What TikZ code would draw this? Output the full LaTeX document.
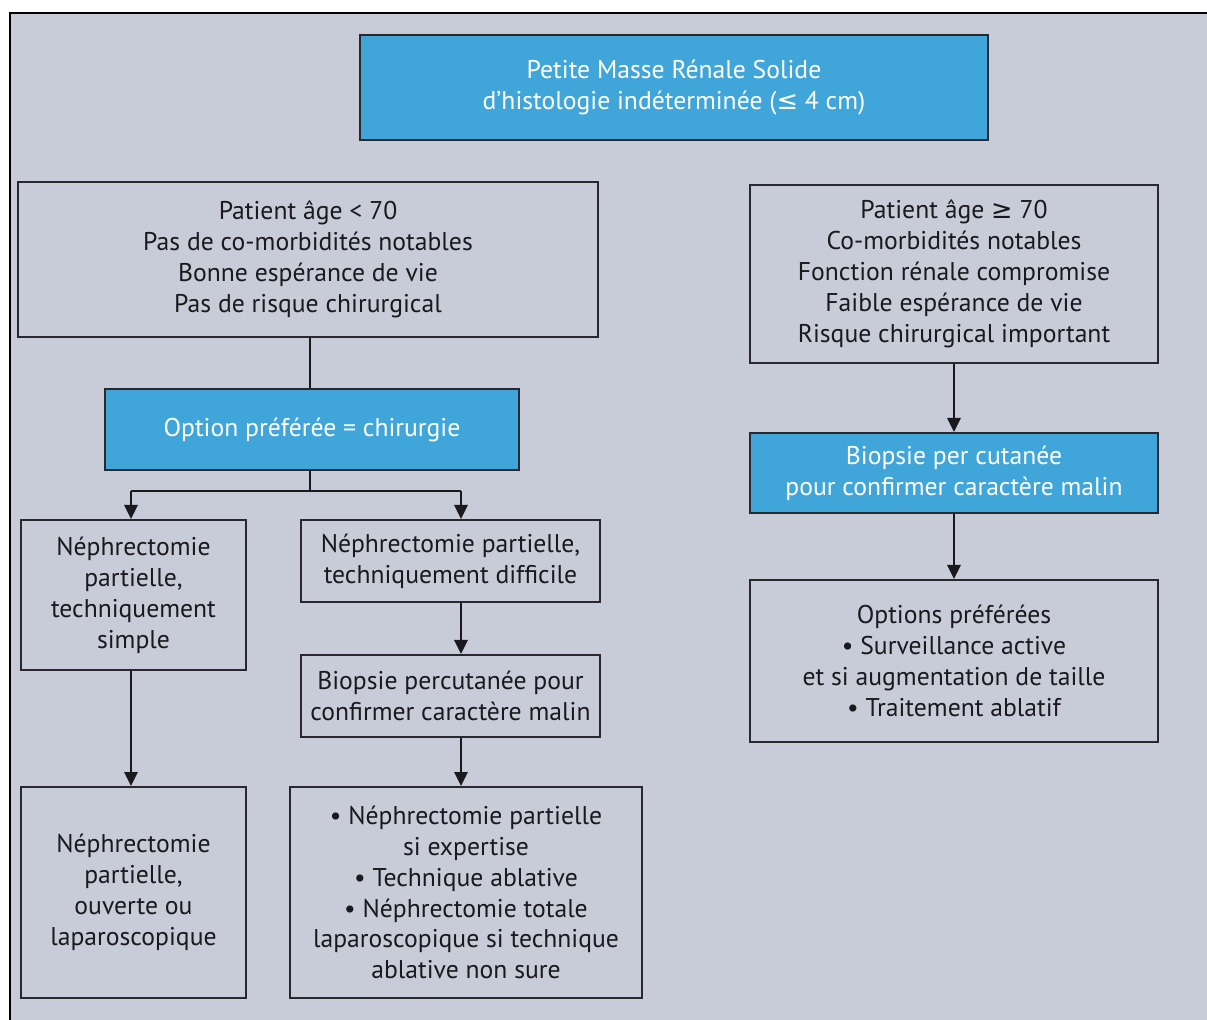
\documentclass[tikz,border=0pt]{standalone}
\usepackage{fontspec}
\setmainfont{PT Sans}
\newfontfamily\symbfont{DejaVu Sans}
\usetikzlibrary{positioning,arrows.meta}
\definecolor{panelgray}{RGB}{200,204,216}
\definecolor{boxblue}{RGB}{64,166,218}
\definecolor{rimgray}{RGB}{40,40,46}
\definecolor{inkgray}{RGB}{25,25,30}
\tikzset{
  box/.style={draw=rimgray,line width=1.1pt,fill=panelgray,align=center,
            inner sep=0pt,text=inkgray,font=\fontsize{14.6}{17.6}\selectfont},
  bluebox/.style={box,fill=boxblue,text=white},
  link/.style={line width=1.3pt,inkgray},
  flow/.style={link,-{Triangle[length=8pt,width=7.5pt]}},
}

\begin{document}
\begin{tikzpicture}[x=0.02cm,y=-0.02cm]
  % panel and frame
  \useasboundingbox (0,0) rectangle (1207,1020);
  \fill[white] (0,0) rectangle (1207,1020);
  \fill[panelgray] (10,13) rectangle (1207,1020);
  \draw[line width=1.7pt] (10,1020) -- (10,13) -- (1207,13);
  % head
  \node[bluebox,minimum width=12.56cm,minimum height=2.1cm] (masse) at (674,87.5)
    {Petite Masse Rénale Solide\\d’histologie indéterminée ({\symbfont ≤} 4 cm)};
  % young patient branch
  \node[box,minimum width=11.6cm,minimum height=3.1cm] (jeune) at (308,259.5)
    {Patient âge < 70\\Pas de co-morbidités notables\\Bonne espérance de vie\\Pas de risque chirurgical};
  \node[bluebox,minimum width=8.28cm,minimum height=1.62cm] (chir) at (312,429.5)
    {Option préférée = chirurgie};
  \node[box,minimum width=4.5cm,minimum height=3.0cm] (simple) at (133.5,595)
    {Néphrectomie\\partielle,\\techniquement\\simple};
  \node[box,minimum width=5.98cm,minimum height=1.64cm] (difficile) at (450.5,561)
    {Néphrectomie partielle,\\techniquement difficile};
  \node[box,minimum width=5.98cm,minimum height=1.64cm] (biopg) at (450.5,696)
    {Biopsie percutanée pour\\confirmer caractère malin};
  \node[box,minimum width=4.5cm,minimum height=4.22cm] (ouverte) at (133.5,892.5)
    {Néphrectomie\\partielle,\\ouverte ou\\laparoscopique};
  \node[box,minimum width=7.04cm,minimum height=4.22cm] (options) at (466,892.5)
    {• Néphrectomie partielle\\si expertise\\• Technique ablative\\• Néphrectomie totale\\laparoscopique si technique\\ablative non sure};
  % older patient branch
  \node[box,minimum width=8.16cm,minimum height=3.56cm] (age) at (954,274)
    {Patient âge {\symbfont ≥} 70\\Co-morbidités notables\\Fonction rénale compromise\\Faible espérance de vie\\Risque chirurgical important};
  \node[bluebox,minimum width=8.16cm,minimum height=1.6cm] (biopd) at (954,473)
    {Biopsie per cutanée\\pour confirmer caractère malin};
  \node[box,minimum width=8.16cm,minimum height=3.24cm] (prefs) at (954,661)
    {Options préférées\\• Surveillance active\\et si augmentation de taille\\• Traitement ablatif};
  % fork under the surgery box
  \coordinate (tronc) at (310,491);
  \coordinate (gauche) at (131,491);
  \coordinate (droite) at (461,491);
  \draw[link] (jeune.south -| tronc) -- (chir.north -| tronc);
  \draw[link] (chir.south -| tronc) -- (tronc);
  \draw[link] (gauche) -- (droite);
  \draw[flow] (gauche) -- (gauche |- simple.north);
  \draw[flow] (droite) -- (droite |- difficile.north);
  \draw[flow] (simple.south -| gauche) -- (ouverte.north -| gauche);
  \draw[flow] (difficile.south -| droite) -- (biopg.north -| droite);
  \draw[flow] (biopg.south -| droite) -- (options.north -| droite);
  % right column arrows
  \draw[flow] (age) -- (biopd);
  \draw[flow] (biopd) -- (prefs);
\end{tikzpicture}
\end{document}
